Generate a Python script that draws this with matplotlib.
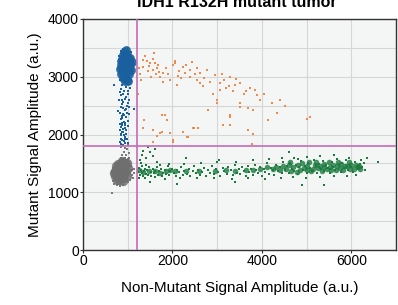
import numpy as np
import matplotlib
matplotlib.use("Agg")
from matplotlib import pyplot as plt

plt.rcParams['font.family'] = ['Liberation Sans', 'DejaVu Sans']

# thresholds (a.u.)
x_threshold = 1200
y_threshold = 1800

# droplet clusters, (non-mutant, mutant) amplitude
blue_core = [(950, 3170), (900, 3250), (1000, 3100), (880, 3100), (1020, 3250), (950, 3350),
             (950, 3000), (870, 3300), (1030, 3050), (900, 2980), (990, 3400), (920, 3420),
             (1060, 3200), (840, 3200), (960, 3270), (940, 3070), (1010, 3330), (890, 3370),
             (1050, 3320), (860, 3050), (980, 2950), (920, 3170), (1000, 3180), (960, 3460),
             (1080, 3120), (830, 3130), (1090, 3260), (850, 3280), (1000, 2920), (930, 2920)]
blue_tail = [(900, 3480), (1000, 3500), (850, 3440), (1080, 3420), (800, 3350), (1100, 3280),
             (1120, 3100), (790, 3150), (820, 2950), (1070, 2950), (880, 2850), (960, 2820),
             (920, 2760), (1000, 2700), (860, 2680), (940, 2620), (900, 2560), (980, 2500),
             (850, 2470), (930, 2420), (890, 2360), (960, 2300), (840, 2260), (910, 2220),
             (870, 2160), (950, 2120), (830, 2080), (900, 2040), (860, 1990), (930, 1950),
             (880, 1900), (820, 1870), (950, 1850), (900, 1820), (1010, 2550), (810, 2600),
             (1020, 2350), (790, 2400), (1000, 2150), (850, 2010), (990, 1930), (690, 2860),
             (1130, 2440), (1050, 2800), (980, 2880), (860, 2780), (940, 2900), (900, 2700),
             (1040, 2600), (880, 2520), (960, 2440), (920, 2330), (880, 2280), (940, 2200),
             (900, 2100), (860, 2130), (920, 1990), (960, 2010), (860, 1920), (910, 1880),
             (1010, 2760), (830, 2730), (970, 2650), (870, 2600), (1030, 2480), (900, 2450),
             (820, 2380), (990, 2380), (870, 2320), (1010, 2240), (880, 2200), (820, 2180),
             (970, 2080), (880, 2050), (940, 1920), (1000, 1860), (840, 1830), (930, 2160)]

grey_core = [(850, 1370), (780, 1420), (910, 1320), (760, 1300), (920, 1450), (850, 1500),
             (840, 1240), (720, 1370), (960, 1370), (800, 1210), (870, 1540), (710, 1280),
             (980, 1280), (780, 1490), (890, 1250), (740, 1450), (930, 1510), (850, 1430),
             (800, 1330), (1010, 1420), (690, 1330), (900, 1190), (760, 1220), (990, 1510)]
grey_scatter = [(680, 1200), (650, 1350), (1000, 1180), (1060, 1340), (1100, 1300), (1130, 1400),
                (1080, 1450), (700, 1150), (760, 1130), (900, 1130), (1000, 1570), (950, 1600),
                (880, 1650), (920, 1700), (990, 1750), (860, 1780), (960, 1640), (900, 1580),
                (1020, 1680), (850, 1600), (650, 990), (1150, 1330), (1120, 1250), (1000, 1820),
                (1060, 1220), (670, 1420), (820, 1110), (1040, 1600), (940, 1760), (1090, 1380)]

orange_pts = [(1590, 3410), (1340, 3290), (1430, 3270), (1475, 3185), (1340, 3170), (1610, 3240),
              (1650, 3150), (1700, 3080), (1720, 3000), (1630, 3050), (1680, 3200), (2060, 3270),
              (2060, 3240), (2010, 3200), (2240, 3170), (2440, 3260), (2390, 3120), (2390, 3000),
              (2620, 3070), (2620, 2890), (2770, 3120), (2700, 2980), (2950, 3030), (3060, 2890),
              (3060, 2770), (3290, 3000), (3400, 2860), (3510, 2890), (3730, 2800), (3850, 2770),
              (3890, 2680), (3510, 2550), (3510, 2480), (3690, 2460), (3800, 2420), (3000, 2600),
              (3000, 2550), (2800, 2420), (3290, 2340), (3290, 2300), (4140, 2250), (1360, 2250),
              (1770, 2340), (1830, 2340), (1880, 2250), (1570, 2080), (1340, 2110), (1720, 2030),
              (1770, 2040), (1950, 2030), (2010, 1900), (2240, 2040), (2460, 2110), (2570, 2110),
              (2330, 1950), (2350, 1960), (3130, 2170), (3290, 2170), (3690, 2080), (3800, 2010),
              (3780, 1840), (2010, 1870), (1570, 1870), (4050, 2700), (4230, 2550), (4520, 2500),
              (4340, 2370), (5010, 2270), (5080, 2300), (1270, 3050), (1300, 2940), (1450, 3100),
              (1520, 2990), (1560, 3120), (1850, 3150), (1900, 3050), (1950, 2950), (2150, 3100),
              (2200, 2980), (2300, 3200), (2500, 3050), (2550, 2950), (2850, 2900), (3150, 2950),
              (3200, 2800), (3350, 2750), (3600, 2700), (3950, 2600), (1380, 3350), (1800, 2900),
              (2100, 2850), (2900, 2700), (1650, 1970), (2480, 2110), (1240, 2700), (1250, 3150),
              (1500, 3230), (1560, 3300), (1780, 3060), (2120, 3020), (2280, 3060), (2560, 3150),
              (2680, 2840), (3100, 3050), (3420, 2960), (3260, 2840), (3640, 2760), (4400, 2600)]

green_pts = [(1230, 1350), (1250, 1420), (1270, 1300), (1290, 1390), (1310, 1340), (1330, 1450),
             (1350, 1280), (1370, 1370), (1390, 1410), (1420, 1320), (1440, 1380), (1460, 1300),
             (1480, 1430), (1510, 1350), (1530, 1290), (1560, 1400), (1590, 1330), (1620, 1370),
             (1650, 1440), (1680, 1300), (1710, 1360), (1740, 1410), (1770, 1280), (1800, 1340),
             (1830, 1390), (1860, 1320), (1890, 1450), (1920, 1300), (1950, 1370), (1980, 1410),
             (1280, 1560), (1320, 1650), (1350, 1720), (1400, 1600), (1450, 1780), (1500, 1690),
             (1560, 1620), (1600, 1750), (1300, 1510), (1650, 1530), (2300, 1600), (3050, 1560),
             (4600, 1700), (4800, 1570), (6350, 1600), (6600, 1520), (1500, 1180), (2100, 1150),
             (3400, 1170), (4900, 1120), (5400, 1130),
             (2030, 1330), (2070, 1290), (2110, 1390), (2150, 1350), (2190, 1430), (2230, 1300),
             (2270, 1370), (2320, 1320), (2360, 1410), (2400, 1280), (2450, 1360), (2490, 1450),
             (2530, 1330), (2580, 1390), (2620, 1300), (2670, 1350), (2710, 1420), (2760, 1290),
             (2800, 1380), (2850, 1330), (2890, 1460), (2940, 1310), (2980, 1400), (3030, 1350),
             (3070, 1290), (3120, 1420), (3160, 1360), (3210, 1310), (3250, 1440), (3300, 1380),
             (3350, 1300), (3390, 1470), (3440, 1340), (3480, 1400),
             (3520, 1310), (3560, 1430), (3600, 1370), (3640, 1290), (3680, 1460), (3720, 1350),
             (3760, 1410), (3800, 1300), (3840, 1480), (3880, 1380), (3920, 1330), (3960, 1440),
             (4000, 1290), (4040, 1400), (4080, 1350), (4120, 1500), (4160, 1320), (4200, 1420),
             (4240, 1380), (4280, 1300), (4320, 1470), (4360, 1360), (4400, 1430), (4440, 1330),
             (4480, 1520),
             (4520, 1390), (4560, 1450), (4600, 1340), (4640, 1500), (4680, 1410), (4720, 1360),
             (4760, 1470), (4800, 1320), (4840, 1430), (4880, 1540), (4920, 1380), (4960, 1460),
             (5000, 1330), (5040, 1500), (5080, 1420), (5120, 1370), (5160, 1560), (5200, 1450),
             (5240, 1340), (5280, 1490), (5320, 1400), (5360, 1550), (5400, 1360), (5440, 1470),
             (5480, 1420), (5520, 1330), (5560, 1520), (5600, 1440), (5640, 1380), (5680, 1580),
             (5720, 1470), (5760, 1350), (5800, 1500), (5840, 1420), (5880, 1560), (5920, 1380),
             (5960, 1480), (6000, 1430), (6040, 1350), (6080, 1520), (6120, 1460), (6160, 1400),
             (6200, 1490), (6240, 1430),
             (1260, 1250), (1380, 1240), (1610, 1260), (1840, 1230), (2180, 1240), (2560, 1250),
             (2930, 1240), (3330, 1230), (3700, 1240), (4060, 1230), (4420, 1250), (4700, 1260),
             (4980, 1250), (5300, 1270), (5620, 1280), (5900, 1290), (6100, 1300), (6220, 1560),
             (5950, 1600), (5620, 1640), (5300, 1630), (5020, 1610), (4730, 1600), (4450, 1590),
             (4150, 1570), (3800, 1560), (3420, 1530), (2990, 1520), (2640, 1500), (2250, 1490),
             (1930, 1490), (1720, 1480), (1410, 1480), (6300, 1380), (6280, 1500)]
green_core = [(4550, 1400), (4700, 1430), (4850, 1380), (5000, 1460), (5150, 1410), (5300, 1450),
              (5450, 1400), (5600, 1480), (5750, 1420), (5900, 1450), (6050, 1410), (6180, 1450),
              (4650, 1370), (4950, 1420), (5250, 1420), (5550, 1380), (5850, 1460), (6150, 1430),
              (4400, 1390), (4250, 1410), (5700, 1520), (5400, 1490), (5100, 1360), (4800, 1470),
              (5050, 1520), (5350, 1360), (5650, 1380), (5950, 1520), (4600, 1480), (6100, 1480),
              (4480, 1460), (4620, 1530), (4780, 1350), (4900, 1500), (5020, 1390), (5180, 1480),
              (5220, 1530), (5380, 1430), (5500, 1520), (5520, 1440), (5680, 1450), (5780, 1490),
              (5820, 1380), (5980, 1400), (6000, 1470), (6200, 1400), (4120, 1430), (4320, 1440),
              (3950, 1400), (3650, 1390), (3400, 1370), (2950, 1370), (2300, 1360), (2050, 1370),
              (1350, 1350), (1600, 1360), (1850, 1370), (2600, 1370), (3200, 1380), (3800, 1390),
              (1250, 1380), (1480, 1360), (1720, 1340), (1950, 1390)]

blue = '#1a5f9e'
orange = '#f08a4b'
green = '#1b7a3e'
grey = '#6e6e6e'
line_col = '#c46cb6'

fig = plt.figure(figsize=(3.98, 3.05), dpi=100)
ax = fig.add_axes([0.2085, 0.180, 0.7865, 0.758])
ax.set_facecolor('#f4f5f5')

def draw(pts, color, size, marker='s', alpha=1.0):
    p = np.array(pts)
    ax.scatter(p[:, 0], p[:, 1], s=size, c=color, marker=marker, linewidths=0,
               alpha=alpha, zorder=3)

draw(grey_core, grey, 45, 'o', 0.85)
draw(grey_scatter, grey, 4, 's', 0.9)
draw(blue_core, blue, 40, 'o', 0.9)
draw(blue_tail, blue, 4)
draw(orange_pts, orange, 4)
draw(green_pts, green, 4)
draw(green_core, green, 16, 'o', 0.8)

ax.axvline(x_threshold, color=line_col, lw=1.2, zorder=4)
ax.axhline(y_threshold, color=line_col, lw=1.2, zorder=4)

ax.set_xlim(0, 7000)
ax.set_ylim(0, 4000)
ax.set_xticks([0, 2000, 4000, 6000])
ax.set_yticks([0, 1000, 2000, 3000, 4000])
ax.set_xticks(np.arange(0, 7001, 1000), minor=True)
ax.set_yticks(np.arange(0, 4001, 500), minor=True)
ax.grid(which='both', color='#d6d6d6', lw=0.8, zorder=0)
ax.set_axisbelow(True)
ax.tick_params(which='major', length=2, labelsize=10, pad=1, color='#333333')
ax.tick_params(which='minor', length=0)
for s in ax.spines.values():
    s.set_color('#333333')
    s.set_linewidth(1.0)

ax.set_xlabel('Non-Mutant Signal Amplitude (a.u.)', fontsize=11, labelpad=9)
ax.set_ylabel('Mutant Signal Amplitude (a.u.)', fontsize=11, labelpad=4)
fig.text(0.595, 0.993, 'IDH1 R132H mutant tumor', ha='center', va='center',
         fontsize=11.5, fontweight='bold')

fig.savefig('out.png', dpi=100)
